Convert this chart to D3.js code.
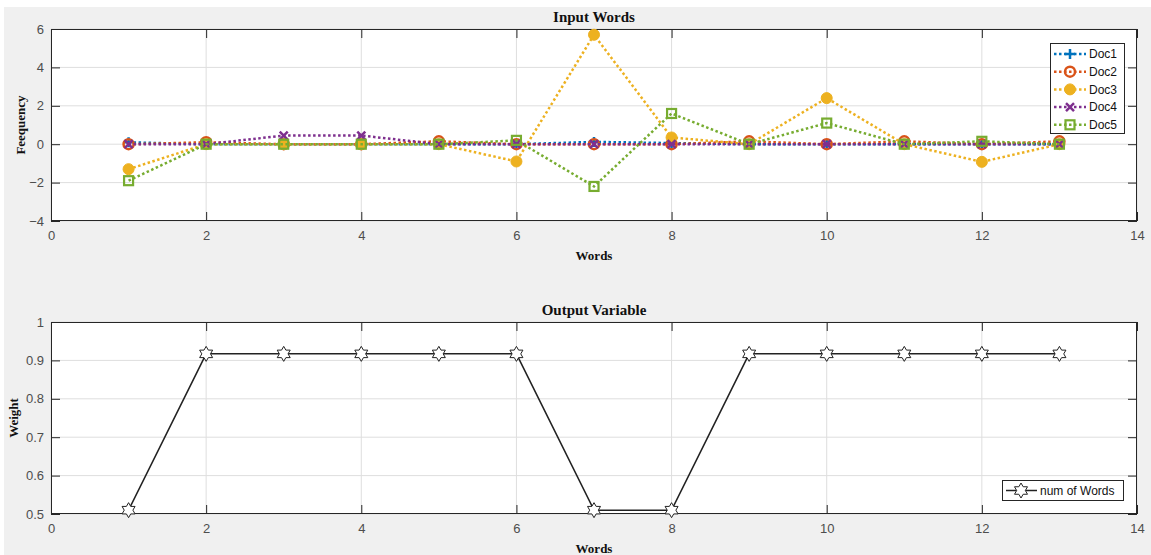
<!DOCTYPE html>
<html>
<head>
<meta charset="utf-8">
<script src="https://cdn.jsdelivr.net/npm/d3@7"></script>
<style>
  body { margin: 0; background: #fff; }
  .tick text { font-family: "Liberation Sans", Arial, sans-serif; font-size: 13px; fill: #4d4d4d; }
  .ttl { font-family: "Liberation Serif", "Times New Roman", serif; font-weight: bold; fill: #111; }
</style>
</head>
<body>
<div id="chart"></div>
<script>
// data
var words = [1, 2, 3, 4, 5, 6, 7, 8, 9, 10, 11, 12, 13];
var docNames = ["Doc1", "Doc2", "Doc3", "Doc4", "Doc5"];
var doc1 = [0.1, 0, 0, 0, 0, 0, 0.12, 0.06, 0, 0, 0, 0, 0];
var doc2 = [0, 0.1, 0, 0, 0.15, 0, 0, 0, 0.15, 0, 0.15, 0, 0.15];
var doc3 = [-1.3, 0, 0, 0, 0, -0.9, 5.7, 0.35, 0, 2.4, 0, -0.92, 0];
var doc4 = [0, 0, 0.45, 0.45, 0, 0, 0, 0, 0, 0, 0, 0, 0];
var doc5 = [-1.9, 0, 0, 0, 0, 0.2, -2.2, 1.6, 0, 1.1, 0, 0.15, 0];
var weights = [0.51, 0.917, 0.917, 0.917, 0.917, 0.917, 0.51, 0.51, 0.917, 0.917, 0.917, 0.917, 0.917];
var xTicks = [0, 2, 4, 6, 8, 10, 12, 14];
var topYTicks = [-4, -2, 0, 2, 4, 6];
var botYTicks = [0.5, 0.6, 0.7, 0.8, 0.9, 1];

var colors = ["#0072BD", "#D95319", "#EDB120", "#7E2F8E", "#77AC30"];
var markers = ["plus", "circle", "dot", "cross", "square"];
var docs = [doc1, doc2, doc3, doc4, doc5];

var W = 1151, H = 555;
var left = 51, right = 1137;

var svg = d3.select("#chart").append("svg")
    .attr("width", W)
    .attr("height", H);

svg.append("rect").attr("x", 4).attr("y", 7).attr("width", W - 4).attr("height", H - 7).attr("fill", "#f0f0f0");

var x = d3.scaleLinear().domain([0, 14]).range([left, right]);
var yTop = d3.scaleLinear().domain([-4, 6]).range([221, 29]);
var yBot = d3.scaleLinear().domain([0.5, 1]).range([514, 322]);

function drawAxes(y, yTicks, yFmt, title, ylabel, ylabelX) {
  var r = y.range(); // [bottom, top]
  var g = svg.append("g");
  g.append("rect").attr("x", left).attr("y", r[1]).attr("width", right - left).attr("height", r[0] - r[1]).attr("fill", "#fff");

  // grid
  g.selectAll(".gx").data(xTicks).enter().append("line")
    .attr("x1", function(d) { return x(d); }).attr("x2", function(d) { return x(d); })
    .attr("y1", r[1]).attr("y2", r[0])
    .attr("stroke", "#dedede").attr("stroke-width", 1);
  g.selectAll(".gy").data(yTicks).enter().append("line")
    .attr("y1", function(d) { return y(d); }).attr("y2", function(d) { return y(d); })
    .attr("x1", left).attr("x2", right)
    .attr("stroke", "#dedede").attr("stroke-width", 1);

  var ax = function(sel) { sel.select(".domain").remove(); sel.selectAll("line").attr("stroke", "#262626"); };

  g.append("g").attr("transform", "translate(0," + r[0] + ")")
    .call(d3.axisBottom(x).tickValues(xTicks).tickSizeInner(-9).tickSizeOuter(0).tickPadding(10).tickFormat(d3.format("d")))
    .call(ax);
  g.append("g").attr("transform", "translate(0," + r[1] + ")")
    .call(d3.axisTop(x).tickValues(xTicks).tickSizeInner(-9).tickSizeOuter(0).tickFormat(""))
    .call(ax);
  g.append("g").attr("transform", "translate(" + left + ",0)")
    .call(d3.axisLeft(y).tickValues(yTicks).tickSizeInner(-9).tickSizeOuter(0).tickPadding(7).tickFormat(yFmt))
    .call(ax);
  g.append("g").attr("transform", "translate(" + right + ",0)")
    .call(d3.axisRight(y).tickValues(yTicks).tickSizeInner(-9).tickSizeOuter(0).tickFormat(""))
    .call(ax);

  g.append("rect").attr("x", left + 0.5).attr("y", r[1] + 0.5).attr("width", right - left - 1).attr("height", r[0] - r[1] - 1)
    .attr("fill", "none").attr("stroke", "#262626").attr("stroke-width", 1);

  svg.append("text").attr("class", "ttl")
    .attr("x", (left + right) / 2).attr("y", r[1] - 7)
    .attr("text-anchor", "middle").style("font-size", "15px").text(title);
  svg.append("text").attr("class", "ttl")
    .attr("x", (left + right) / 2).attr("y", r[0] + 39)
    .attr("text-anchor", "middle").style("font-size", "13px").text("Words");
  svg.append("text").attr("class", "ttl")
    .attr("transform", "translate(" + ylabelX + "," + (r[0] + r[1]) / 2 + ") rotate(-90)")
    .attr("text-anchor", "middle").style("font-size", "13px").text(ylabel);
}

drawAxes(yTop, topYTicks, d3.format("d"), "Input Words", "Feequency", 25);
drawAxes(yBot, botYTicks, function(d) { return d === 1 ? "1" : d3.format(".1f")(d); }, "Output Variable", "Weight", 18);

function drawMarker(sel, type, color) {
  if (type === "plus") {
    sel.append("path").attr("d", "M-5,0H5M0,-5V5").attr("stroke", color).attr("stroke-width", 2.5).attr("fill", "none");
  } else if (type === "circle") {
    sel.append("circle").attr("r", 5).attr("stroke", color).attr("stroke-width", 2.5).attr("fill", "none");
  } else if (type === "dot") {
    sel.append("circle").attr("r", 5.5).attr("stroke", color).attr("stroke-width", 1).attr("fill", color);
  } else if (type === "cross") {
    sel.append("path").attr("d", "M-4,-4L4,4M-4,4L4,-4").attr("stroke", color).attr("stroke-width", 2.5).attr("fill", "none");
  } else if (type === "square") {
    sel.append("rect").attr("x", -4.5).attr("y", -4.5).attr("width", 9).attr("height", 9)
      .attr("stroke", color).attr("stroke-width", 2.2).attr("fill", "none");
  }
}

var lineTop = d3.line()
  .x(function(d, i) { return x(words[i]); })
  .y(function(d) { return yTop(d); });

docs.forEach(function(vals, k) {
  var g = svg.append("g");
  g.append("path").attr("d", lineTop(vals))
    .attr("fill", "none").attr("stroke", colors[k]).attr("stroke-width", 2.5)
    .attr("stroke-dasharray", "2.5,2.5");
  g.selectAll(".m").data(vals).enter().append("g")
    .attr("transform", function(d, i) { return "translate(" + x(words[i]) + "," + yTop(d) + ")"; })
    .each(function() { drawMarker(d3.select(this), markers[k], colors[k]); });
});

// top legend
var leg = svg.append("g");
leg.append("rect").attr("x", 1050.5).attr("y", 43.5).attr("width", 74).attr("height", 90)
  .attr("fill", "#fff").attr("stroke", "#262626").attr("stroke-width", 1);
docNames.forEach(function(name, k) {
  var yy = 54 + k * 17.7;
  leg.append("line").attr("x1", 1054).attr("x2", 1086).attr("y1", yy).attr("y2", yy)
    .attr("stroke", colors[k]).attr("stroke-width", 2.5).attr("stroke-dasharray", "2.5,2.5");
  var m = leg.append("g").attr("transform", "translate(1070," + yy + ")");
  drawMarker(m, markers[k], colors[k]);
  leg.append("text").attr("x", 1089).attr("y", yy).attr("dy", "0.35em")
    .style("font-family", "Liberation Sans, Arial, sans-serif").style("font-size", "12px").attr("fill", "#111")
    .text(name);
});

// bottom series
function hexagram(R) {
  var pts = [];
  for (var i = 0; i < 12; i++) {
    var a = -Math.PI / 2 + i * Math.PI / 6;
    var rr = i % 2 === 0 ? R : R / Math.sqrt(3);
    pts.push([rr * Math.cos(a), rr * Math.sin(a)]);
  }
  return "M" + pts.map(function(p) { return p[0].toFixed(2) + "," + p[1].toFixed(2); }).join("L") + "Z";
}

var lineBot = d3.line()
  .x(function(d, i) { return x(words[i]); })
  .y(function(d) { return yBot(d); });

svg.append("path").attr("d", lineBot(weights))
  .attr("fill", "none").attr("stroke", "#222").attr("stroke-width", 1.5);
svg.selectAll(".star").data(weights).enter().append("path")
  .attr("d", hexagram(7.5))
  .attr("transform", function(d, i) { return "translate(" + x(words[i]) + "," + yBot(d) + ")"; })
  .attr("fill", "#fff").attr("stroke", "#222").attr("stroke-width", 1);

var leg2 = svg.append("g");
leg2.append("rect").attr("x", 1002.5).attr("y", 480.5).attr("width", 121).attr("height", 20)
  .attr("fill", "#fff").attr("stroke", "#262626").attr("stroke-width", 1);
leg2.append("line").attr("x1", 1006).attr("x2", 1037).attr("y1", 490.5).attr("y2", 490.5)
  .attr("stroke", "#222").attr("stroke-width", 1.5);
leg2.append("path").attr("d", hexagram(7.5)).attr("transform", "translate(1021,490.5)")
  .attr("fill", "#fff").attr("stroke", "#222").attr("stroke-width", 1);
leg2.append("text").attr("x", 1040).attr("y", 490.5).attr("dy", "0.35em")
  .style("font-family", "Liberation Sans, Arial, sans-serif").style("font-size", "12px").attr("fill", "#111")
  .text("num of Words");
</script>
</body>
</html>
